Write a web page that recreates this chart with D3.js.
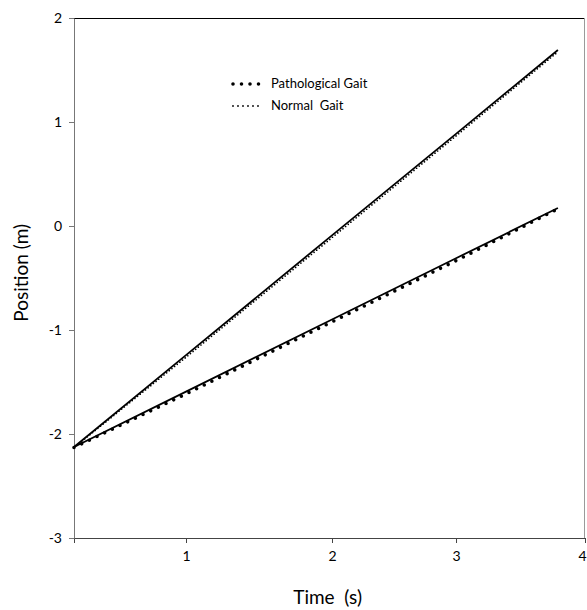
<!DOCTYPE html>
<html>
<head>
<meta charset="utf-8">
<script src="https://cdn.jsdelivr.net/npm/d3@7"></script>
<style>
  body { margin: 0; background: #fff; }
  text { font-family: Lato, "Open Sans", sans-serif; fill: #000; }
  .tick text { font-size: 14px; }
  .axisText { font-size: 19px; }
  .legendText { font-size: 13px; }
</style>
</head>
<body>
<div id="chart"></div>
<script>
var times = [0.23, 1, 2, 3, 3.79];
// fitted lines (solid) and measured series (dotted), position in m
var pathFit = [-2.125, -1.593, -0.899, -0.31, 0.173];
var pathData = [-2.13, -1.615, -0.922, -0.334, 0.165];
var normalFit = [-2.125, -1.242, -0.09, 0.886, 1.692];
var normalData = [-2.13, -1.262, -0.112, 0.866, 1.675];

// axis ticks
var xTickValues = [0.23, 1, 2, 3, 4];
var xTickLabels = ["", "1", "2", "3", "4"];
var yTickValues = [-3, -2, -1, 0, 1, 2];

var svgWidth = 587;
var svgHeight = 610;

var margin = { top: 18, right: 2, bottom: 72, left: 74 };
var width = svgWidth - margin.left - margin.right;
var height = svgHeight - margin.top - margin.bottom;

var svg = d3.select("#chart")
  .append("svg")
  .attr("width", svgWidth)
  .attr("height", svgHeight);

var chartGroup = svg.append("g")
  .attr("transform", `translate(${margin.left}, ${margin.top})`);

// the time axis is not evenly spaced in the original, so use a piecewise scale
var xScale = d3.scaleLinear()
  .domain(xTickValues)
  .range([0, width * 0.2192, width * 0.5049, width * 0.7476, width]);

var yScale = d3.scaleLinear()
  .domain([-3, 2])
  .range([height, 0]);

// plot border (top and right)
chartGroup.append("line")
  .attr("x1", 0).attr("x2", width)
  .attr("y1", 0.5).attr("y2", 0.5)
  .attr("stroke", "#000")
  .attr("stroke-width", 1);

chartGroup.append("line")
  .attr("x1", width - 0.5).attr("x2", width - 0.5)
  .attr("y1", 0).attr("y2", height)
  .attr("stroke", "#9a9a9a")
  .attr("stroke-width", 1);

// axes
var xAxis = d3.axisBottom(xScale)
  .tickValues(xTickValues)
  .tickSize(5)
  .tickSizeOuter(0)
  .tickFormat((d, i) => xTickLabels[i]);

var yAxis = d3.axisLeft(yScale)
  .tickValues(yTickValues)
  .tickSize(5)
  .tickSizeOuter(0)
  .tickFormat(d => String(d));

var gx = chartGroup.append("g")
  .attr("transform", `translate(0, ${height})`)
  .call(xAxis);
gx.select(".domain").attr("stroke", "#444");
gx.selectAll(".tick line").attr("stroke", "#444");
gx.selectAll(".tick text").attr("dy", "1.1em").attr("fill", "#222");
// last label sits against the right edge
gx.selectAll(".tick text").filter(d => d === 4)
  .attr("text-anchor", "end")
  .attr("x", 1);

var gy = chartGroup.append("g")
  .call(yAxis);
gy.select(".domain").attr("stroke", "#777");
gy.selectAll(".tick line").attr("stroke", "#777");
gy.selectAll(".tick text").attr("x", -12).attr("fill", "#222");

// axis titles
chartGroup.append("text")
  .attr("class", "axisText")
  .attr("transform", "rotate(-90)")
  .attr("x", -(yScale(-0.45)))
  .attr("y", -margin.left + 28)
  .attr("text-anchor", "middle")
  .text("Position (m)");

chartGroup.append("text")
  .attr("class", "axisText")
  .attr("x", xScale(1.97))
  .attr("y", height + 66)
  .attr("text-anchor", "middle")
  .attr("xml:space", "preserve")
  .text("Time  (s)");

// lines
var line = function(values) {
  return d3.line()
    .x((d, i) => xScale(times[i]))
    .y(d => yScale(d))(values);
};

chartGroup.append("path")
  .attr("d", line(normalData))
  .attr("fill", "none")
  .attr("stroke", "#000")
  .attr("stroke-width", 1.7)
  .attr("stroke-linecap", "round")
  .attr("stroke-dasharray", "0 3.4");

chartGroup.append("path")
  .attr("d", line(pathData))
  .attr("fill", "none")
  .attr("stroke", "#000")
  .attr("stroke-width", 3.6)
  .attr("stroke-linecap", "round")
  .attr("stroke-dasharray", "0 8.5");

chartGroup.append("path")
  .attr("d", line(normalFit))
  .attr("fill", "none")
  .attr("stroke", "#000")
  .attr("stroke-width", 1.8);

chartGroup.append("path")
  .attr("d", line(pathFit))
  .attr("fill", "none")
  .attr("stroke", "#000")
  .attr("stroke-width", 1.8);

// legend
var legend = svg.append("g")
  .attr("transform", "translate(232, 0)");

legend.append("line")
  .attr("x1", 1).attr("x2", 27)
  .attr("y1", 84).attr("y2", 84)
  .attr("stroke", "#000")
  .attr("stroke-width", 3.6)
  .attr("stroke-linecap", "round")
  .attr("stroke-dasharray", "0 8.5");

legend.append("text")
  .attr("class", "legendText")
  .attr("x", 39)
  .attr("y", 88)
  .text("Pathological Gait");

legend.append("line")
  .attr("x1", 1).attr("x2", 27)
  .attr("y1", 106).attr("y2", 106)
  .attr("stroke", "#000")
  .attr("stroke-width", 1.8)
  .attr("stroke-linecap", "round")
  .attr("stroke-dasharray", "0 5");

legend.append("text")
  .attr("class", "legendText")
  .attr("x", 39)
  .attr("y", 110)
  .attr("xml:space", "preserve")
  .text("Normal  Gait");
</script>
</body>
</html>
